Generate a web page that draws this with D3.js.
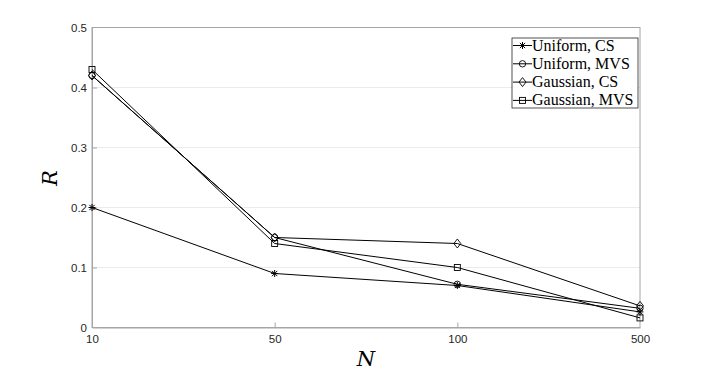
<!DOCTYPE html>
<html>
<head>
<meta charset="utf-8">
<script src="https://cdn.jsdelivr.net/npm/d3@7"></script>
<style>
  body { margin: 0; background: #fff; }
  svg { display: block; }
</style>
</head>
<body>
<script>
// categories on the x axis (equally spaced)
const nValues = ["10", "50", "100", "500"];
const yTicks = [0, 0.1, 0.2, 0.3, 0.4, 0.5];

const uniformCS = [0.2, 0.09, 0.07, 0.026];
const uniformMVS = [0.42, 0.15, 0.072, 0.032];
const gaussianCS = [0.42, 0.15, 0.14, 0.036];
const gaussianMVS = [0.43, 0.14, 0.10, 0.016];

const seriesNames = ["Uniform, CS", "Uniform, MVS", "Gaussian, CS", "Gaussian, MVS"];
const markers = ["asterisk", "circle", "diamond", "square"];

const series = [uniformCS, uniformMVS, gaussianCS, gaussianMVS].map((v, i) => ({
    name: seriesNames[i],
    marker: markers[i],
    values: v
}));

const outerWidth = 706, outerHeight = 373;
const margin = {top: 27.5, left: 92, bottom: 45.5, right: 66};
const width = outerWidth - margin.left - margin.right;
const height = outerHeight - margin.top - margin.bottom;

const svg = d3.select("body").append("svg")
    .attr("width", outerWidth)
    .attr("height", outerHeight);

const g = svg.append("g").attr("transform", `translate(${margin.left},${margin.top})`);

const x = d3.scalePoint().domain(nValues).range([0, width]);
const y = d3.scaleLinear().domain([0, 0.5]).range([height, 0]);

const axisColor = "#262626";
const tickFont = "Liberation Sans, Arial, sans-serif";

// grid
g.append("g")
    .selectAll("line")
    .data(yTicks.slice(1, -1))
    .join("line")
    .attr("x1", 0).attr("x2", width)
    .attr("y1", d => y(d)).attr("y2", d => y(d))
    .attr("stroke", "#ebebeb")
    .attr("stroke-width", 1);

// box
g.append("rect")
    .attr("x", 0).attr("y", 0)
    .attr("width", width).attr("height", height)
    .attr("fill", "none")
    .attr("stroke", "#a6a6a6")
    .attr("stroke-width", 1);

// axes (ticks inward)
const xAxis = g.append("g")
    .attr("transform", `translate(0,${height})`)
    .call(d3.axisBottom(x).tickSizeInner(-5).tickSizeOuter(0).tickPadding(7));
const yAxis = g.append("g")
    .call(d3.axisLeft(y).tickValues(yTicks).tickFormat(d3.format("")).tickSizeInner(-5).tickSizeOuter(0).tickPadding(5));

[xAxis, yAxis].forEach(a => {
    a.select(".domain").attr("stroke", "#a6a6a6");
    a.selectAll(".tick line").attr("stroke", "#a6a6a6");
    a.selectAll(".tick text")
        .attr("fill", axisColor)
        .style("font-family", tickFont)
        .style("font-size", "11.5px");
});
// hide ticks at the plot edges
xAxis.selectAll(".tick line").filter((d, i) => i === 0 || i === nValues.length - 1).remove();
yAxis.selectAll(".tick line").filter(d => d === 0 || d === 0.5).remove();

// lines
const line = d3.line()
    .x((d, i) => x(nValues[i]))
    .y(d => y(d));

g.append("g")
    .selectAll("path")
    .data(series)
    .join("path")
    .attr("d", d => line(d.values))
    .attr("fill", "none")
    .attr("stroke", "#000")
    .attr("stroke-width", 1);

function drawMarker(sel, type, cx, cy) {
    if (type === "circle") {
        sel.append("circle").attr("cx", cx).attr("cy", cy).attr("r", 3.2)
            .attr("fill", "none").attr("stroke", "#000").attr("stroke-width", 0.9);
    } else if (type === "square") {
        sel.append("rect").attr("x", cx - 3).attr("y", cy - 3).attr("width", 6).attr("height", 6)
            .attr("fill", "none").attr("stroke", "#000").attr("stroke-width", 0.9);
    } else if (type === "diamond") {
        sel.append("path")
            .attr("d", `M${cx},${cy - 4.5}L${cx + 3.5},${cy}L${cx},${cy + 4.5}L${cx - 3.5},${cy}Z`)
            .attr("fill", "none").attr("stroke", "#000").attr("stroke-width", 0.9);
    } else {
        const r = 3.5, rd = r * 0.75;
        sel.append("path")
            .attr("d", `M${cx - r},${cy}H${cx + r}M${cx},${cy - r}V${cy + r}` +
                `M${cx - rd},${cy - rd}L${cx + rd},${cy + rd}M${cx - rd},${cy + rd}L${cx + rd},${cy - rd}`)
            .attr("stroke", "#000").attr("stroke-width", 1);
    }
}

const markerG = g.append("g");
series.forEach(s => {
    s.values.forEach((v, i) => drawMarker(markerG, s.marker, x(nValues[i]), y(v)));
});

// axis titles
svg.append("text")
    .attr("x", 366)
    .attr("y", 366)
    .attr("text-anchor", "middle")
    .style("font-family", "DejaVu Serif, serif")
    .style("font-style", "italic")
    .style("font-size", "21px")
    .text("N");

svg.append("text")
    .attr("transform", "translate(57,178) rotate(-90)")
    .attr("text-anchor", "middle")
    .style("font-family", "DejaVu Serif, serif")
    .style("font-style", "italic")
    .style("font-size", "21px")
    .text("R");

// legend
const legend = svg.append("g").attr("transform", "translate(512,38)");
legend.append("rect")
    .attr("width", 126).attr("height", 70)
    .attr("fill", "#fff")
    .attr("stroke", "#262626")
    .attr("stroke-width", 0.8);

series.forEach((s, i) => {
    const yy = 7.5 + i * 18.3;
    const row = legend.append("g");
    row.append("line")
        .attr("x1", 1).attr("x2", 20)
        .attr("y1", yy).attr("y2", yy)
        .attr("stroke", "#000").attr("stroke-width", 1);
    drawMarker(row, s.marker, 10.5, yy);
    row.append("text")
        .attr("x", 20).attr("y", yy + 5)
        .style("font-family", "Liberation Serif, Times New Roman, serif")
        .style("font-size", "16px")
        .attr("fill", "#000")
        .text(s.name);
});
</script>
</body>
</html>
